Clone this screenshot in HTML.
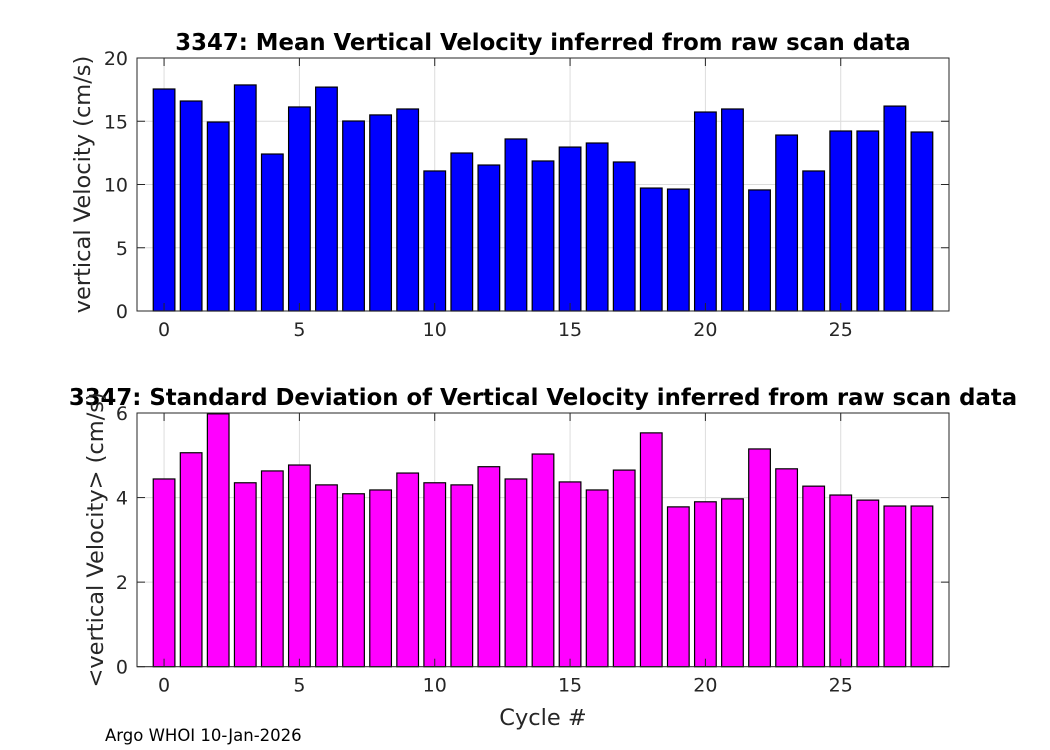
<!DOCTYPE html>
<html><head><meta charset="utf-8"><style>
body{margin:0;background:#fff;}
svg{display:block;font-family:"DejaVu Sans","Liberation Sans",sans-serif;}
</style></head><body>
<svg id="c" width="1050" height="750" viewBox="0 0 1050 750"></svg>
<script>
const cycles=[0,1,2,3,4,5,6,7,8,9,10,11,12,13,14,15,16,17,18,19,20,21,22,23,24,25,26,27,28];
const meanVel=[17.55,16.6,14.94,17.87,12.41,16.13,17.7,15.02,15.5,15.97,11.07,12.49,11.54,13.6,11.86,12.96,13.28,11.78,9.72,9.64,15.73,15.97,9.57,13.91,11.07,14.23,14.23,16.2,14.15];
const stdVel=[4.44,5.06,5.98,4.35,4.63,4.77,4.30,4.09,4.18,4.58,4.35,4.30,4.73,4.44,5.03,4.37,4.18,4.65,5.53,3.78,3.90,3.97,5.15,4.68,4.27,4.06,3.94,3.80,3.80];
const xTicks=[0,5,10,15,20,25];
const yTicksTop=[0,5,10,15,20];
const yTicksBot=[0,2,4,6];
const NS="http://www.w3.org/2000/svg";
const svg=document.getElementById('c');
function el(t,a,p){const e=document.createElementNS(NS,t);for(const k in a)e.setAttribute(k,a[k]);(p||svg).appendChild(e);return e;}
const L=137,R=949,xmin=-1,xmax=29;
const xs=v=>L+(v-xmin)/(xmax-xmin)*(R-L);
function panel(name,top,bot,ymax,vals,yt,color,title,ylab,ylx){
  const g=el('g',{});
  
  
  const ys=v=>bot-v/ymax*(bot-top);
  el('rect',{x:L,y:top,width:R-L,height:bot-top,fill:'#fff'},g);
  xTicks.forEach(t=>{const l=el('line',{x1:xs(t),x2:xs(t),y1:top,y2:bot,stroke:'#dcdcdc','stroke-width':1},g);});
  yt.forEach(t=>{const l=el('line',{x1:L,x2:R,y1:ys(t),y2:ys(t),stroke:'#dcdcdc','stroke-width':1},g);});
  const bw=0.8*(xs(1)-xs(0));
  vals.forEach((v,i)=>{
    const b=el('rect',{x:xs(cycles[i])-bw/2,y:ys(v),width:bw,height:ys(0)-ys(v),fill:color,stroke:'#000','stroke-width':1.2},g);
    
    
  });
  el('rect',{x:L,y:top,width:R-L,height:bot-top,fill:'none',stroke:'#262626','stroke-width':1},g);
  xTicks.forEach(t=>{
    el('line',{x1:xs(t),x2:xs(t),y1:bot,y2:bot-8,stroke:'#262626'},g);
    el('line',{x1:xs(t),x2:xs(t),y1:top,y2:top+8,stroke:'#262626'},g);
    const tx=el('text',{x:xs(t),y:bot+25,'text-anchor':'middle','font-size':19,fill:'#262626'},g);tx.textContent=t;
    
  });
  yt.forEach(t=>{
    el('line',{x1:L,x2:L+8,y1:ys(t),y2:ys(t),stroke:'#262626'},g);
    el('line',{x1:R,x2:R-8,y1:ys(t),y2:ys(t),stroke:'#262626'},g);
    const tx=el('text',{x:L-9,y:ys(t)+7,'text-anchor':'end','font-size':19,fill:'#262626'},g);tx.textContent=t;
    
  });
  const ti=el('text',{x:543,y:top-8,'text-anchor':'middle','font-size':22.8,'font-weight':'bold',fill:'#000'},g);ti.textContent=title;
  
  const cy=(top+bot)/2;
  const yl=el('text',{x:ylx,y:cy,'text-anchor':'middle','font-size':22.5,fill:'#262626',transform:`rotate(-90 ${ylx} ${cy})`},g);yl.textContent=ylab;
  
}
panel('mean-velocity-panel',58,311,20,meanVel,yTicksTop,'#0000ff','3347: Mean Vertical Velocity inferred from raw scan data','vertical Velocity (cm/s)',90);
panel('std-velocity-panel',413,666.7,6,stdVel,yTicksBot,'#ff00ff','3347: Standard Deviation of Vertical Velocity inferred from raw scan data','<vertical Velocity> (cm/s)',103);
const xl=el('text',{x:543,y:725,'text-anchor':'middle','font-size':22.5,fill:'#262626'});xl.textContent='Cycle #';


const ft=el('text',{x:105,y:741,'font-size':16.5,fill:'#000'});ft.textContent='Argo WHOI 10-Jan-2026';


</script>
</body></html>
